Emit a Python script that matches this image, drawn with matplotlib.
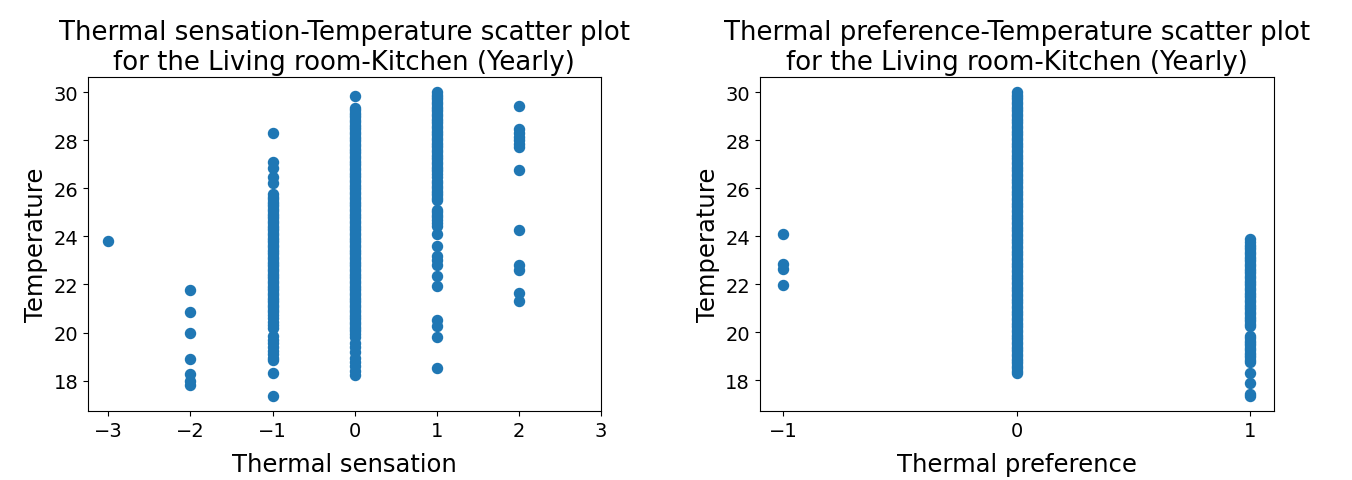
import matplotlib
matplotlib.use("Agg")
import matplotlib.pyplot as plt

sens_m3 = [23.8]
sens_m2 = [21.76, 20.87, 19.99, 18.9, 18.29, 17.97, 17.8]
sens_m1 = [28.3, 27.1, 26.85, 26.45, 26.2,
           25.75, 25.65, 25.55, 25.45, 25.35, 25.25, 25.15, 25.05, 24.95, 24.85,
           24.75, 24.65, 24.55, 24.45, 24.35, 24.25, 24.15, 24.05, 23.95, 23.85,
           23.75, 23.65, 23.55, 23.45, 23.35, 23.25, 23.15, 23.05, 22.95, 22.85,
           22.75, 22.65, 22.55, 22.45, 22.35, 22.25, 22.15, 22.05, 21.95, 21.85,
           21.75, 21.65, 21.55, 21.45, 21.35, 21.25, 21.15, 21.05, 20.95, 20.85,
           20.75, 20.6, 20.45, 20.3, 20.2,
           19.85, 19.7, 19.55, 19.4, 19.25, 19.1, 18.95, 18.85, 18.3, 17.37]
sens_0 = [29.83, 29.35, 29.25, 29.15, 29.05, 28.95, 28.85, 28.75,
          28.65, 28.55, 28.45, 28.35, 28.25, 28.15, 28.05, 27.95, 27.85, 27.75,
          27.65, 27.55, 27.45, 27.35, 27.25, 27.15, 27.05, 26.95, 26.85, 26.75,
          26.65, 26.55, 26.45, 26.35, 26.25, 26.15, 26.05, 25.95, 25.85, 25.75,
          25.65, 25.55, 25.45, 25.35, 25.25, 25.15, 25.05, 24.95, 24.85, 24.75,
          24.65, 24.55, 24.45, 24.35, 24.25, 24.15, 24.05, 23.95, 23.85, 23.75,
          23.65, 23.55, 23.45, 23.35, 23.25, 23.15, 23.05, 22.95, 22.85, 22.75,
          22.65, 22.55, 22.45, 22.35, 22.25, 22.15, 22.05, 21.95, 21.85, 21.75,
          21.65, 21.55, 21.45, 21.35, 21.25, 21.15, 21.05, 20.95, 20.85, 20.75,
          20.65, 20.55, 20.45, 20.35, 20.25, 20.15, 20.05, 19.95, 19.83,
          19.58, 19.4, 19.2, 18.96, 18.78, 18.6, 18.42, 18.25]
sens_1 = [30.0, 29.9, 29.8, 29.7, 29.6, 29.5, 29.4, 29.3, 29.2, 29.1, 29.0,
          28.9, 28.8, 28.7, 28.6, 28.5, 28.4, 28.3, 28.2, 28.1, 28.0,
          27.9, 27.8, 27.7, 27.6, 27.5, 27.4, 27.3, 27.2, 27.1, 27.0,
          26.9, 26.8, 26.7, 26.6, 26.45, 26.3, 26.2, 26.1, 26.0, 25.9, 25.8,
          25.7, 25.6, 25.5, 25.1, 25.0, 24.9, 24.8, 24.7, 24.55, 24.45,
          24.08, 23.6, 23.18, 23.0, 22.83, 22.35, 21.93, 20.54, 20.26, 19.8, 18.54]
sens_2 = [29.43, 28.45, 28.3, 28.15, 28.0, 27.85, 27.7, 26.76, 24.26,
          22.83, 22.62, 21.65, 21.3]

# Thermal preference vote -> temperatures observed
pref_m1 = [24.08, 22.83, 22.62, 21.97]
pref_0 = [30.0, 29.9, 29.8, 29.7, 29.6, 29.5, 29.4, 29.3, 29.2, 29.1, 29.0,
          28.9, 28.8, 28.7, 28.6, 28.5, 28.4, 28.3, 28.2, 28.1, 28.0,
          27.9, 27.8, 27.7, 27.6, 27.5, 27.4, 27.3, 27.2, 27.1, 27.0,
          26.9, 26.8, 26.7, 26.6, 26.5, 26.4, 26.3, 26.2, 26.1, 26.0,
          25.9, 25.8, 25.7, 25.6, 25.5, 25.4, 25.3, 25.2, 25.1, 25.0,
          24.9, 24.8, 24.7, 24.6, 24.5, 24.4, 24.3, 24.2, 24.1, 24.0,
          23.9, 23.8, 23.7, 23.6, 23.5, 23.4, 23.3, 23.2, 23.1, 23.0,
          22.9, 22.8, 22.7, 22.6, 22.5, 22.4, 22.3, 22.2, 22.1, 22.0,
          21.9, 21.8, 21.7, 21.6, 21.5, 21.4, 21.3, 21.2, 21.1, 21.0,
          20.9, 20.8, 20.7, 20.6, 20.5, 20.4, 20.3, 20.2, 20.1, 20.0,
          19.9, 19.8, 19.7, 19.6, 19.5, 19.4, 19.3, 19.2, 19.1, 19.0,
          18.9, 18.8, 18.7, 18.6, 18.5, 18.4, 18.3]
pref_1 = [23.87, 23.75, 23.65, 23.55, 23.45, 23.35, 23.25, 23.15, 23.05,
          22.95, 22.85, 22.75, 22.65, 22.55, 22.45, 22.35, 22.25, 22.15, 22.05,
          21.95, 21.85, 21.75, 21.65, 21.55, 21.45, 21.35, 21.25, 21.15, 21.05,
          20.95, 20.85, 20.75, 20.65, 20.55, 20.45, 20.35, 20.26,
          19.85, 19.75, 19.65, 19.55, 19.45, 19.35, 19.25, 19.15, 19.05, 18.95,
          18.85, 18.75, 18.32, 17.9, 17.42, 17.35]

sens_groups = {-3: sens_m3, -2: sens_m2, -1: sens_m1, 0: sens_0, 1: sens_1, 2: sens_2}
pref_groups = {-1: pref_m1, 0: pref_0, 1: pref_1}

sens_x, sens_y = [], []
for k, v in sens_groups.items():
    sens_x += [k] * len(v)
    sens_y += v
pref_x, pref_y = [], []
for k, v in pref_groups.items():
    pref_x += [k] * len(v)
    pref_y += v

fig = plt.figure(figsize=(13.52, 4.81), dpi=100)
ax1 = fig.add_axes([0.065, 0.1435, 0.3795, 0.6945])
ax2 = fig.add_axes([0.562, 0.1435, 0.380, 0.6945])

ax1.scatter(sens_x, sens_y, s=52, color="#1f77b4")
ax1.set_xticks([-3, -2, -1, 0, 1, 2, 3])
ax1.set_title("Thermal sensation-Temperature scatter plot\nfor the Living room-Kitchen (Yearly)",
              fontsize=18.7)
ax1.set_xlabel("Thermal sensation", fontsize=17.5, labelpad=9)
ax1.set_ylabel("Temperature", fontsize=17.5)

ax2.scatter(pref_x, pref_y, s=52, color="#1f77b4")
ax2.set_xticks([-1, 0, 1])
ax2.set_title("Thermal preference-Temperature scatter plot\nfor the Living room-Kitchen (Yearly)",
              fontsize=18.7)
ax2.set_xlabel("Thermal preference", fontsize=17.5, labelpad=9)
ax2.set_ylabel("Temperature", fontsize=17.5)

for ax in (ax1, ax2):
    ax.tick_params(labelsize=14)

fig.savefig("out.png", dpi=100)
